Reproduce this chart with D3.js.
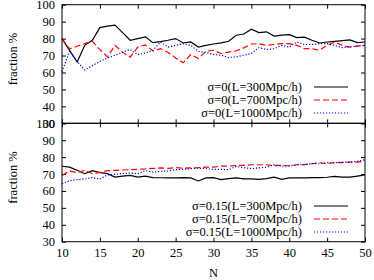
<!DOCTYPE html>
<html>
<head>
<meta charset="UTF-8">
<style>
  body { margin: 0; background: #fff; }
  svg text { font-family: "Liberation Serif", "Times New Roman", serif; font-size: 12.5px; fill: #000; }
  .axis text { font-family: "Liberation Serif", "Times New Roman", serif; font-size: 12.5px; }
</style>
</head>
<body>
<script src="https://cdn.jsdelivr.net/npm/d3@7"></script>
<script>
// x values (N)
const nValues = [10,11,12,13,14,15,16,17,18,19,20,21,22,23,24,25,26,27,28,29,30,
                 31,32,33,34,35,36,37,38,39,40,41,42,43,44,45,46,47,48,49,50];

// top panel, sigma = 0
const s0L300 = [80,73,66.2,76,79,86.5,87.4,88,83.5,79,80,81,77.6,78.2,79,80,77.4,78,75,76,76.8,
                77.5,78.4,82,82.7,85.5,83.5,84,81.5,82,82.3,80.6,80.8,79,77.4,78,78.4,78.8,79.2,77.6,78];
const s0L700 = [80,74,75.5,77,78.5,73.5,69.2,76,72,69,75,76.3,72.7,74,71.8,68.6,65.7,70.6,68.2,72.5,73.1,
                71.2,72,72.8,74.5,76.8,77,76,76.5,77,77,76,74.1,74,73.1,76,78,76,75,75.5,76];
const s0L1000 = [60.5,72.5,66.5,61.5,64,66.5,68.5,70.2,72,73.5,70.5,71.5,73,78,75,76,77,76,72.5,71.8,70.6,
                 70.2,68.8,69.2,70.2,71.2,74.7,73.5,74,76,75,78,76.5,76.5,77,77,76,74.7,75,75.7,76];

// bottom panel, sigma = 0.15
const s15L300 = [74.6,74.1,72.2,70.2,72,70.8,70.2,68.2,68.8,69.2,68.2,68.8,67.9,67.8,67.7,67.7,67.9,67.7,65.9,67.7,67.9,
                 66.7,67.3,67.7,67.1,67.1,66.9,67.3,68.2,66.9,67.7,67.7,67.7,67.9,67.9,68.1,68.6,68.2,68.2,68.8,69.5];
const s15L700 = [69.2,71.8,70.8,72.2,70.2,71,72,72.2,72.4,72.6,72.8,73,73.3,73.6,73.4,73.8,73.4,73.6,73.8,74.1,74.1,
                 74.7,74.7,75.1,75.1,75.5,75.5,75.5,74.9,75.1,74.9,75.5,75.6,76.1,76.7,76.1,76.7,76.7,77.1,77.1,77.5];
const s15L1000 = [64.3,66,66.8,67,68,67,69.5,69.8,70.3,70.6,70.2,72,71.2,71.6,71.8,72.6,72.8,73.2,73.5,73.2,72.8,
                  72.8,72.6,74.5,73.8,73.2,73.6,74.1,75.5,74.7,74.7,75.5,75.5,76.1,76.1,76.7,76.7,77.1,77.1,77.5,78.5];

const xTicks = [10,15,20,25,30,35,40,45,50];
const yTicks = [30,40,50,60,70,80,90,100];

const topLabels = ["σ=0(L=300Mpc/h)", "σ=0(L=700Mpc/h)", "σ=0(L=1000Mpc/h)"];
const bottomLabels = ["σ=0.15(L=300Mpc/h)", "σ=0.15(L=700Mpc/h)", "σ=0.15(L=1000Mpc/h)"];

const styles = [
  {color: "#000000", dash: null},
  {color: "#ff0000", dash: "6,3"},
  {color: "#0000ff", dash: "1.2,1.8"}
];

const plotLeft = 62, plotRight = 365;

const svg = d3.select("body").append("svg")
    .attr("width", 374)
    .attr("height", 280);

const x = d3.scaleLinear().domain([10, 50]).range([plotLeft, plotRight]);

const panels = [
  {top: 4.7, bottom: 123.3, series: [s0L300, s0L700, s0L1000], labels: topLabels, legendY: 87, xLabels: false},
  {top: 123.3, bottom: 241.7, series: [s15L300, s15L700, s15L1000], labels: bottomLabels, legendY: 206, xLabels: true}
];

panels.forEach(function(p) {
    const y = d3.scaleLinear().domain([30, 100]).range([p.bottom, p.top]);
    const g = svg.append("g");

    // ticks on all four sides, pointing inward
    g.append("g").attr("class", "axis")
        .attr("transform", "translate(" + plotLeft + ",0)")
        .call(d3.axisLeft(y).tickValues(yTicks).tickSizeInner(-4).tickSizeOuter(0).tickPadding(7));
    g.append("g").attr("class", "axis")
        .attr("transform", "translate(" + plotRight + ",0)")
        .call(d3.axisRight(y).tickValues(yTicks).tickSizeInner(-4).tickSizeOuter(0).tickFormat(""));
    g.append("g").attr("class", "axis")
        .attr("transform", "translate(0," + p.top + ")")
        .call(d3.axisTop(x).tickValues(xTicks).tickSizeInner(-4).tickSizeOuter(0).tickFormat(""));
    g.append("g").attr("class", "axis")
        .attr("transform", "translate(0," + p.bottom + ")")
        .call(d3.axisBottom(x).tickValues(xTicks).tickSizeInner(-4).tickSizeOuter(0).tickPadding(6)
            .tickFormat(p.xLabels ? d3.format("d") : ""));

    g.selectAll(".axis .domain").remove();
    g.selectAll(".axis text").attr("fill", "#000");
    g.selectAll(".axis line").attr("stroke", "#000");

    const line = d3.line()
        .x(function(d, i) { return x(nValues[i]); })
        .y(function(d) { return y(d); });

    p.series.forEach(function(s, i) {
        g.append("path")
            .datum(s)
            .attr("fill", "none")
            .attr("stroke", styles[i].color)
            .attr("stroke-width", 1.2)
            .attr("stroke-dasharray", styles[i].dash)
            .attr("d", line);
    });

    // frame
    g.append("rect")
        .attr("x", plotLeft)
        .attr("y", p.top)
        .attr("width", plotRight - plotLeft)
        .attr("height", p.bottom - p.top)
        .attr("fill", "none")
        .attr("stroke", "#000")
        .attr("stroke-width", 1);

    // legend
    p.labels.forEach(function(lbl, i) {
        const ly = p.legendY + i * 13;
        g.append("text")
            .attr("x", 302)
            .attr("y", ly)
            .attr("dy", "0.35em")
            .attr("text-anchor", "end")
            .text(lbl);
        g.append("line")
            .attr("x1", 314).attr("x2", 348)
            .attr("y1", ly).attr("y2", ly)
            .attr("stroke", styles[i].color)
            .attr("stroke-width", 1.2)
            .attr("stroke-dasharray", styles[i].dash);
    });

    // y axis title
    const cy = (p.top + p.bottom) / 2 - 5;
    g.append("text")
        .attr("transform", "translate(13," + cy + ") rotate(-90)")
        .attr("text-anchor", "middle")
        .attr("dy", "0.35em")
        .text("fraction %");
});

svg.append("text")
    .attr("x", (plotLeft + plotRight) / 2)
    .attr("y", 273)
    .attr("dy", "0.35em")
    .attr("text-anchor", "middle")
    .text("N");
</script>
</body>
</html>
